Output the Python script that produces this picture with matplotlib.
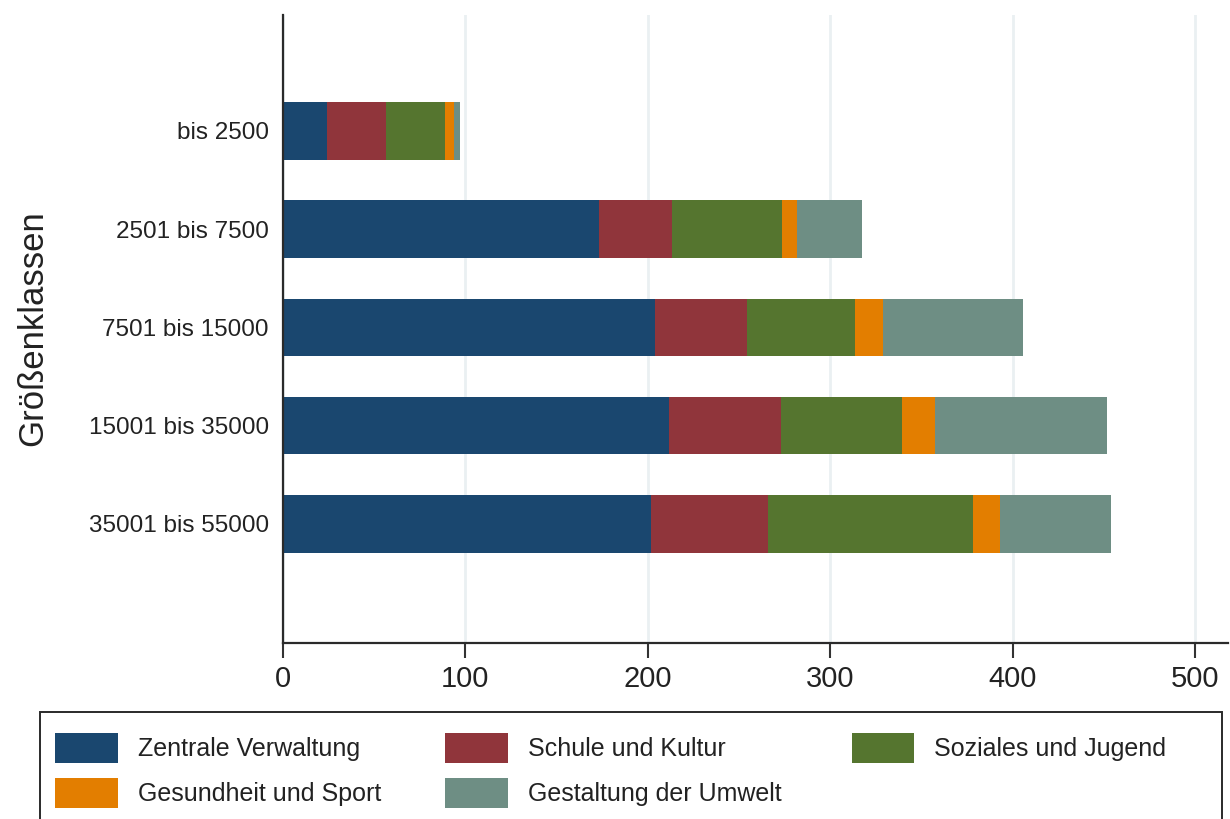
import matplotlib
matplotlib.use("Agg")
import matplotlib.pyplot as plt
import numpy as np
from matplotlib.patches import Patch, Rectangle

categories = ["bis 2500", "2501 bis 7500", "7501 bis 15000", "15001 bis 35000", "35001 bis 55000"]
series_names = ["Zentrale Verwaltung", "Schule und Kultur", "Soziales und Jugend",
                "Gesundheit und Sport", "Gestaltung der Umwelt"]
zentrale = [24.4, 173.3, 203.8, 211.8, 201.6]
schule = [32.3, 40.0, 50.9, 61.2, 64.4]
soziales = [32.3, 60.2, 58.9, 66.6, 112.3]
gesundheit = [4.9, 8.3, 15.5, 17.7, 14.6]
umwelt = [3.3, 35.6, 76.3, 94.4, 61.2]
xticks = [0, 100, 200, 300, 400, 500]

colors = ["#1a476f", "#90353b", "#55752f", "#e37e00", "#6e8e84"]
series = [zentrale, schule, soziales, gesundheit, umwelt]

fam = ["Liberation Sans", "DejaVu Sans"]
plt.rcParams["font.family"] = fam

W, H = 1230, 819
fig = plt.figure(figsize=(W / 100, H / 100), dpi=100)
ax = fig.add_axes([0.2297, 0.2153, 0.9984 - 0.2297, 0.9817 - 0.2153])

y = np.arange(1, len(categories) + 1)
left = np.zeros(len(categories))
for vals, col, name in zip(series, colors, series_names):
    ax.barh(y, vals, left=left, height=0.585, color=col, label=name, linewidth=0)
    left += np.array(vals)

ax.set_xlim(0, 518)
ax.set_ylim(6.21, -0.18)
ax.set_yticks(y)
ax.set_yticklabels(categories, fontsize=17.5, color="#222222")
ax.set_xticks(xticks)
ax.set_xticklabels([str(t) for t in xticks], fontsize=21, color="#222222")
ax.tick_params(axis="y", length=0, pad=10)
ax.tick_params(axis="x", length=11, width=1.5, color="#333333", pad=5)
ax.xaxis.grid(True, color="#eaf0f2", linewidth=2)
ax.set_axisbelow(True)
for s in ["top", "right"]:
    ax.spines[s].set_visible(False)
for s in ["left", "bottom"]:
    ax.spines[s].set_linewidth(1.6)
    ax.spines[s].set_color("#2a2a2a")

fig.text(0.027, 0.5995, "Größenklassen", rotation=90, fontsize=25,
         ha="center", va="center", color="#222222")

# legend frame (extends below the figure edge, as in the reference)
fig.add_artist(Rectangle((40 / W, -0.05), 1182 / W, (1 - 712 / H) + 0.05,
                         transform=fig.transFigure, facecolor="white",
                         edgecolor="#2a2a2a", linewidth=1.4, zorder=0))

# legend laid out row-wise in three columns
columns = [[0, 3], [1, 4], [2]]
col_x = [55, 445, 852]
for idx, cx in zip(columns, col_x):
    hs = [Patch(facecolor=colors[i], edgecolor="none") for i in idx]
    ls = [series_names[i] for i in idx]
    leg = fig.legend(hs, ls, loc="upper left", bbox_to_anchor=(cx / W, 1 - 733 / H),
                     fontsize=18, frameon=False, handlelength=2.5, handleheight=1.47,
                     handletextpad=0.8, borderpad=0, labelspacing=0.6, borderaxespad=0)
    for t in leg.get_texts():
        t.set_color("#222222")

fig.savefig("out.png", dpi=100)
